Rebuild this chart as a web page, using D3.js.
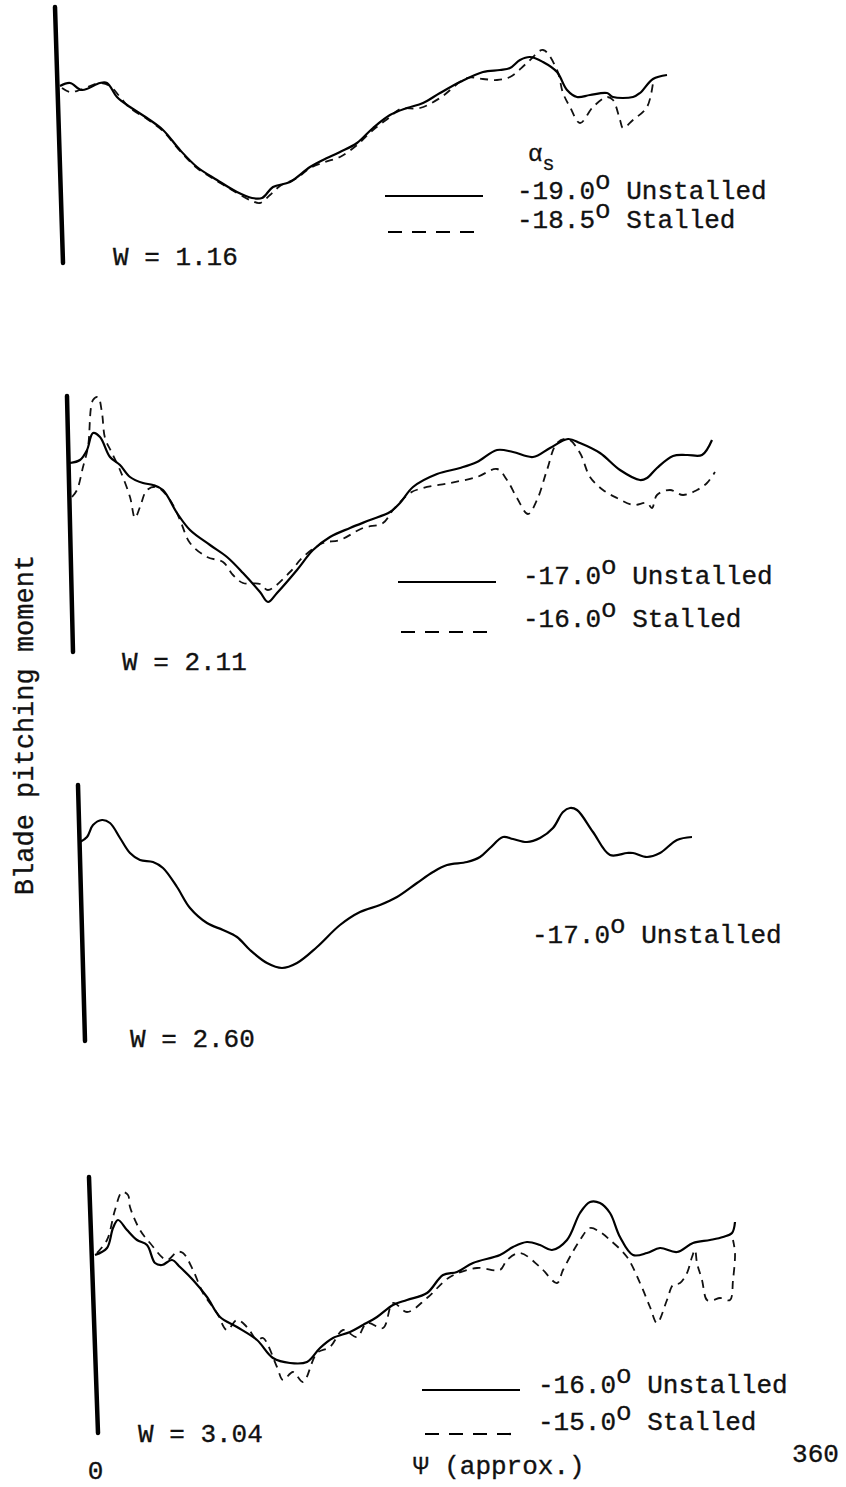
<!DOCTYPE html>
<html lang="en">
<head>
    <meta charset="UTF-8">
    <title>Blade pitching moment</title>
    <script src="https://cdn.jsdelivr.net/npm/d3@7"></script>
    <style>
        body { margin: 0; background: #fff; }
        text { font-family: "Liberation Mono", "DejaVu Sans Mono", monospace; fill: #111; stroke: #111; stroke-width: 0.35px; }
    </style>
</head>
<body>
    <script>
        // blade pitching moment vs azimuth psi (deg), moment in arbitrary units
        var wValues = ["1.16", "2.11", "2.60", "3.04"]
        var unstalledAngles = ["-19.0", "-17.0", "-17.0", "-16.0"]
        var stalledAngles = ["-18.5", "-16.0", null, "-15.0"]
        var psiTicks = [0, 360]

        var w116Unstalled = [[0,49],[5,52],[11,45],[20,52],[23.5,52],[28.5,38],[35,28],[43.5,17],[51.5,5],[60,-15],
            [68.5,-32],[78.5,-45],[88.5,-57],[96,-63],[101,-63],[106.5,-52],[115,-47],[125,-32],[131.5,-25],[140,-17],
            [148.5,-8],[156.5,7],[165,20],[173.5,27],[181.5,32],[190,42],[200,53],[211.5,63],[220,65],[225,67],
            [230,75],[235,78],[241.5,73],[248.5,63],[253.5,45],[258.5,38],[265,40],[273.5,42],[276.5,38],[286.5,38],
            [290,42],[296.5,56],[303.5,60]]
        var w116Stalled = [[1,47],[5,43],[10,45],[20,52],[25,49],[30,38],[35,27],[43.5,16],[51.5,4],[60,-16],
            [68.5,-33],[78.5,-46],[88.5,-58],[96,-66],[100,-68],[105,-60],[110,-51],[118.5,-43],[125,-33],[132.5,-27],
            [140,-22],[148.5,-10],[156.5,5],[165,18],[170,26],[180,27],[190,37],[203.5,57],[211.5,56],[218.5,55],
            [225,58],[233.5,72],[241.5,85],[248.5,65],[251.5,42],[255,28],[260,12],[266.5,28],[273.5,38],[276.5,35],
            [280,15],[281.5,7],[286.5,15],[293.5,28],[296.5,52]]

        var w211Unstalled = [[0,61],[5,64],[8.5,74],[11.5,91],[15,87],[20,67],[25,59],[30,47],[36.5,41],[41.5,39],
            [46.5,34],[53.5,11],[60,-6],[70,-21],[78.5,-33],[86.5,-49],[95,-68],[99,-78],[103.5,-69],[113.5,-46],
            [121.5,-26],[130,-13],[140,-4],[150,4],[160,12],[165,21],[171.5,37],[183.5,50],[195,56],[203.5,62],
            [213.5,74],[221.5,72],[231.5,67],[240,76],[249,85],[255,81],[265,71],[275,54],[285,44],[288.5,46],
            [293.5,56],[301.5,68],[308.5,69],[316,69],[321,84]]
        var w211Stalled = [[1,27],[3.5,34],[6.5,57],[9,77],[11.5,124],[14,127],[16,111],[17.5,86],[21,71],[25,54],
            [30,27],[32.5,6],[35,17],[38.5,34],[43.5,37],[50,24],[55,4],[60,-19],[68.5,-33],[76.5,-38],
            [81.5,-51],[86.5,-59],[95,-60],[99,-66],[110,-48],[116.5,-33],[126.5,-19],[135,-16],[146.5,-4],[156.5,1],
            [161.5,14],[170,31],[176.5,36],[190,41],[203.5,47],[213.5,55],[218.5,44],[223.5,26],[229,10],[233.5,24],
            [238.5,54],[243.5,81],[249,85],[255,71],[260,47],[266.5,34],[273.5,26],[281.5,19],[288.5,21],[291,16],
            [293.5,29],[300,34],[306.5,29],[313.5,34],[318.5,41],[322.5,52]]

        var w260Unstalled = [[0,71],[3.5,76],[6.5,88],[11,93],[15,90],[20,75],[25,60],[30,53],[36.5,51],[41.5,45],
            [48.5,26],[55,5],[63.5,-10],[71.5,-17],[78.5,-24],[85,-37],[93.5,-50],[101,-55],[108.5,-50],[118.5,-34],
            [130,-12],[140,1],[150,8],[158.5,16],[168.5,30],[176.5,41],[183.5,48],[193.5,51],[200,56],[205,65],
            [211.5,76],[216.5,74],[223.5,71],[230,75],[236.5,85],[241.5,101],[245,105],[248.5,103],[256.5,81],[265,58],
            [273.5,60],[276.5,60],[283.5,56],[290,60],[298.5,73],[306,76]]

        var w304Unstalled = [[0,50],[6,57],[9,77],[11.5,85],[16,75],[21,65],[26,60],[30,42],[33.5,40],[38.5,45],
            [42.5,38],[49,25],[56,8],[62.5,-12],[71,-22],[81,-35],[89,-53],[97.5,-58],[106,-57],[112.5,-43],
            [119,-33],[127.5,-27],[134,-20],[141,-12],[149,0],[156,5],[166,12],[174,30],[181,33],[189,42],
            [202.5,50],[209,58],[216,63],[222.5,60],[228.5,55],[236,65],[242.5,92],[247.5,103],[252.5,102],[257.5,92],
            [262.5,68],[269,50],[276,52],[282.5,57],[291,53],[299,62],[307.5,65],[314,68],[318.5,72],[320,83]]
        var w304Stalled = [[1,52],[6,65],[10,95],[13.5,113],[16.5,110],[17.5,98],[22.5,75],[27.5,62],[36,45],[41,53],
            [44,52],[49,35],[54,12],[61,-8],[66,-25],[71,-15],[76,-22],[81,-35],[84,-33],[91,-62],
            [94,-75],[99,-67],[104,-77],[111,-48],[117.5,-42],[124,-25],[131,-32],[136,-18],[144,-23],[149,2],
            [156,-7],[166,7],[177.5,28],[191,37],[202.5,35],[206,45],[212.5,52],[222.5,38],[231,22],[234,35],
            [242.5,65],[247.5,77],[252.5,73],[257.5,65],[266,48],[272.5,22],[277.5,-2],[281,-18],[286,5],[289,20],
            [292.5,22],[296,32],[298.5,48],[300,55],[301,42],[303.5,25],[306,5],[309,5],[312.5,7],[317.5,5],
            [319,25],[320,52],[319,65]]

        // page layout of the four scanned panels (slightly skewed in the original)
        var panels = [
            { x0: 60, yMid: 135, axTop: 55, axBot: 63, solid: w116Unstalled, dashed: w116Stalled,
              wx: 113, wy: 265, lx: 385, ly: 196, tx: 517, ty: 199, gap: 29, header: true },
            { x0: 70, yMid: 524, axTop: 67, axBot: 73, solid: w211Unstalled, dashed: w211Stalled,
              wx: 122, wy: 670, lx: 398, ly: 582, tx: 523, ty: 584, gap: 43 },
            { x0: 80, yMid: 913, axTop: 78, axBot: 85, solid: w260Unstalled, dashed: null,
              wx: 130, wy: 1047, lx: null, ly: null, tx: 532, ty: 943, gap: 0 },
            { x0: 95, yMid: 1305, axTop: 89, axBot: 98, solid: w304Unstalled, dashed: w304Stalled,
              wx: 138, wy: 1442, lx: 422, ly: 1390, tx: 538, ty: 1393, gap: 37 }
        ]

        var svg = d3.select("body")
            .append("svg")
            .attr("width", 846)
            .attr("height", 1487)

        var fs = 26

        function angleText(g, x, y, angle, word) {
            var t = g.append("text").attr("x", x).attr("y", y).style("font-size", fs + "px")
            t.append("tspan").text(angle)
            t.append("tspan").attr("dy", -10).text("o")
            t.append("tspan").attr("dy", 10).text(" " + word)
        }

        panels.forEach(function(p, i) {
            var x = d3.scaleLinear().domain([0, 360]).range([p.x0, p.x0 + 720])
            var y = d3.scaleLinear().domain([-130, 130]).range([p.yMid + 130, p.yMid - 130])
            var g = svg.append("g")

            // thick vertical axis bar
            g.append("line")
                .attr("x1", p.axTop).attr("y1", y(128))
                .attr("x2", p.axBot).attr("y2", y(-128))
                .style("stroke", "#000")
                .style("stroke-width", 4.5)
                .style("stroke-linecap", "round")

            var line = d3.line()
                .x(function(d) { return x(d[0]) })
                .y(function(d) { return y(d[1]) })
                .curve(d3.curveCatmullRom.alpha(0.5))

            if (p.dashed) {
                g.append("path")
                    .attr("d", line(p.dashed))
                    .style("fill", "none")
                    .style("stroke", "#111")
                    .style("stroke-width", 1.8)
                    .style("stroke-dasharray", "8,6")
            }
            g.append("path")
                .attr("d", line(p.solid))
                .style("fill", "none")
                .style("stroke", "#000")
                .style("stroke-width", 2.2)
                .style("stroke-linejoin", "round")

            g.append("text")
                .attr("x", p.wx).attr("y", p.wy)
                .style("font-size", fs + "px")
                .text("W = " + wValues[i])

            if (p.lx !== null) {
                g.append("line")
                    .attr("x1", p.lx).attr("x2", p.lx + 98)
                    .attr("y1", p.ly).attr("y2", p.ly)
                    .style("stroke", "#000").style("stroke-width", 2.2)
                g.append("line")
                    .attr("x1", p.lx + 3).attr("x2", p.lx + 98)
                    .attr("y1", p.ly + p.gap + 7).attr("y2", p.ly + p.gap + 7)
                    .style("stroke", "#000").style("stroke-width", 2.2)
                    .style("stroke-dasharray", "14,10")
            }
            angleText(g, p.tx, p.ty, unstalledAngles[i], "Unstalled")
            if (stalledAngles[i]) angleText(g, p.tx, p.ty + p.gap, stalledAngles[i], "Stalled")

            if (p.header) {
                var h = g.append("text").attr("x", 528).attr("y", 161).style("font-size", "24px")
                h.append("tspan").text("\u03b1")
                h.append("tspan").attr("dy", 9).style("font-size", "20px").text("s")
            }

            if (i === 3) {
                // psi axis: only the end labels
                var ax = g.append("g")
                    .attr("transform", "translate(0,1462)")
                    .call(d3.axisBottom(x).tickValues(psiTicks).tickSize(0).tickPadding(0).tickFormat(d3.format("d")))
                ax.select(".domain").remove()
                ax.selectAll("text")
                    .style("font-size", fs + "px")
                    .style("font-family", "Liberation Mono")
                    .attr("fill", "#111")
                    .attr("dy", function(d) { return d === 0 ? "0.66em" : "0em" })
                g.append("text")
                    .attr("x", 413).attr("y", 1474)
                    .style("font-size", fs + "px")
                    .text("\u03a8 (approx.)")
            }
        })

        svg.append("text")
            .attr("transform", "translate(33,725) rotate(-90)")
            .attr("text-anchor", "middle")
            .style("font-size", "27px")
            .text("Blade pitching moment")
    </script>
</body>
</html>
